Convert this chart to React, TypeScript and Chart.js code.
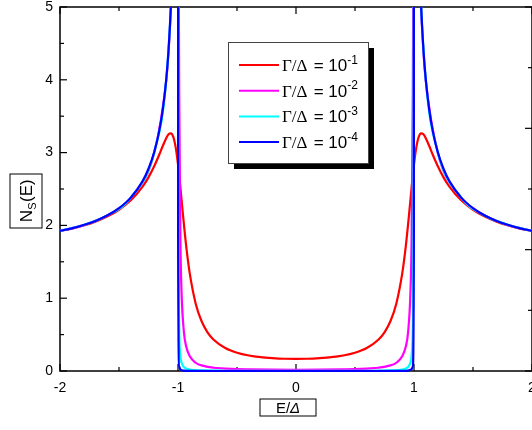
import React, { useEffect, useRef } from 'react';
import { Chart, registerables } from 'chart.js';

Chart.register(...registerables);

// Quasiparticle density of states N_s(E) for four broadening ratios Γ/Δ.
// Values are in units of the normal-state DOS (right-hand 0–3 axis).

const energyRed = [-2, -1.9, -1.8, -1.7, -1.6, -1.5, -1.4, -1.3, -1.25, -1.2, -1.16, -1.13, -1.1, -1.08, -1.06, -1.04, -1.02, -1, -0.98, -0.96, -0.93, -0.9, -0.85, -0.8, -0.75, -0.7, -0.6, -0.5, -0.4, -0.3, -0.2, -0.1, 0, 0.1, 0.2, 0.3, 0.4, 0.5, 0.6, 0.7, 0.75, 0.8, 0.85, 0.9, 0.93, 0.96, 0.98, 1, 1.02, 1.04, 1.06, 1.08, 1.1, 1.13, 1.16, 1.2, 1.25, 1.3, 1.4, 1.5, 1.6, 1.7, 1.8, 1.9, 2];
const dosRed = [1.153, 1.174, 1.199, 1.231, 1.273, 1.329, 1.407, 1.520, 1.596, 1.691, 1.780, 1.852, 1.919, 1.951, 1.959, 1.929, 1.845, 1.702, 1.514, 1.309, 1.025, 0.802, 0.555, 0.410, 0.319, 0.260, 0.190, 0.151, 0.128, 0.114, 0.106, 0.101, 0.100, 0.101, 0.106, 0.114, 0.128, 0.151, 0.190, 0.260, 0.319, 0.410, 0.555, 0.802, 1.025, 1.309, 1.514, 1.702, 1.845, 1.929, 1.959, 1.951, 1.919, 1.852, 1.780, 1.691, 1.596, 1.520, 1.407, 1.329, 1.273, 1.231, 1.199, 1.174, 1.153];

const energyMagenta = [-2, -1.8, -1.6, -1.4, -1.2, -1.1, -1.08, -1.05, -1.03, -1.02, -1.01, -1.005, -1, -0.995, -0.99, -0.98, -0.97, -0.95, -0.93, -0.9, -0.85, -0.8, -0.7, -0.6, -0.5, -0.4, -0.2, 0, 0.2, 0.4, 0.5, 0.6, 0.7, 0.8, 0.85, 0.9, 0.93, 0.95, 0.97, 0.98, 0.99, 0.995, 1, 1.005, 1.01, 1.02, 1.03, 1.05, 1.08, 1.1, 1.2, 1.4, 1.6, 1.8, 2];
const dosMagenta = [1.155, 1.202, 1.281, 1.428, 1.806, 2.392, 2.633, 3.234, 4.018, 4.679, 5.552, 5.737, 5.038, 3.545, 2.300, 1.105, 0.652, 0.321, 0.199, 0.121, 0.068, 0.046, 0.027, 0.020, 0.015, 0.013, 0.011, 0.010, 0.011, 0.013, 0.015, 0.020, 0.027, 0.046, 0.068, 0.121, 0.199, 0.321, 0.652, 1.105, 2.300, 3.545, 5.038, 5.737, 5.552, 4.679, 4.018, 3.234, 2.633, 2.392, 1.806, 1.428, 1.281, 1.202, 1.155];

const energyCyan = [-2, -1.8, -1.6, -1.4, -1.2, -1.1, -1.05, -1.03, -1.02, -1.01, -1.005, -1.002, -1, -0.998, -0.995, -0.99, -0.98, -0.97, -0.95, -0.9, -0.8, -0.6, -0.3, 0, 0.3, 0.6, 0.8, 0.9, 0.95, 0.97, 0.98, 0.99, 0.995, 0.998, 1, 1.002, 1.005, 1.01, 1.02, 1.03, 1.05, 1.1, 1.2, 1.4, 1.6, 1.8, 2];
const dosCyan = [1.155, 1.203, 1.281, 1.429, 1.809, 2.399, 3.278, 4.170, 5.065, 7.098, 9.891, 14.58, 15.83, 3.441, 0.981, 0.356, 0.127, 0.070, 0.033, 0.012, 0.0046, 0.002, 0.0011, 0.001, 0.0011, 0.002, 0.0046, 0.012, 0.033, 0.070, 0.127, 0.356, 0.981, 3.441, 15.83, 14.58, 9.891, 7.098, 5.065, 4.170, 3.278, 2.399, 1.809, 1.429, 1.281, 1.203, 1.155];

const energyBlue = [-2, -1.9, -1.8, -1.7, -1.6, -1.5, -1.4, -1.3, -1.25, -1.2, -1.16, -1.13, -1.1, -1.08, -1.06, -1.05, -1.04, -1.03, -1.02, -1.01, -1.005, -1.001, -1, -0.999, -0.99, -0.98, -0.95, -0.9, -0.5, 0, 0.5, 0.9, 0.95, 0.98, 0.99, 0.999, 1, 1.001, 1.005, 1.01, 1.02, 1.03, 1.04, 1.05, 1.06, 1.08, 1.1, 1.13, 1.16, 1.2, 1.25, 1.3, 1.4, 1.5, 1.6, 1.7, 1.8, 1.9, 2];
const dosBlue = [1.155, 1.176, 1.203, 1.237, 1.281, 1.342, 1.429, 1.565, 1.667, 1.809, 1.973, 2.147, 2.400, 2.648, 3.015, 3.280, 3.641, 4.174, 5.075, 7.124, 10.04, 22.4, 50, 1.11, 0.036, 0.013, 0.003, 0.001, 0.0001, 0.0001, 0.0001, 0.001, 0.003, 0.013, 0.036, 1.11, 50, 22.4, 10.04, 7.124, 5.075, 4.174, 3.641, 3.280, 3.015, 2.648, 2.400, 2.147, 1.973, 1.809, 1.667, 1.565, 1.429, 1.342, 1.281, 1.237, 1.203, 1.176, 1.155];

const seriesColors = ['#ff0000', '#ff00ff', '#00ffff', '#0000ff'];
const gammaExponents = ['-1', '-2', '-3', '-4'];
const leftTicks = [0, 1, 2, 3, 4, 5];
const energyTicks = [-2, -1, 0, 1, 2];

const SANS = '"Liberation Sans", Arial, sans-serif';
const SERIF = '"Liberation Serif", "Times New Roman", serif';

const toPoints = (xs: number[], ys: number[]) => xs.map((x, i) => ({ x, y: ys[i] }));

const decorations = {
  id: 'decorations',
  beforeDatasetsDraw(chart: any) {
    const { ctx, chartArea: a, scales } = chart;
    const sx = scales.x;
    const sy = scales.y;
    const sr = scales.yN;
    ctx.save();
    ctx.strokeStyle = '#000';
    ctx.lineWidth = 1.5;
    ctx.strokeRect(a.left, a.top, a.right - a.left, a.bottom - a.top);
    ctx.lineWidth = 1.2;
    const seg = (x1: number, y1: number, x2: number, y2: number) => {
      ctx.beginPath();
      ctx.moveTo(x1, y1);
      ctx.lineTo(x2, y2);
      ctx.stroke();
    };
    for (let k = -4; k <= 4; k++) {
      const px = sx.getPixelForValue(k / 2);
      const len = k % 2 === 0 ? 7 : 4;
      seg(px, a.bottom, px, a.bottom - len);
      seg(px, a.top, px, a.top + len);
    }
    for (let k = 0; k <= 10; k++) {
      const py = sy.getPixelForValue(k / 2);
      seg(a.left, py, a.left + (k % 2 === 0 ? 7 : 4), py);
    }
    for (let k = 0; k <= 6; k++) {
      const py = sr.getPixelForValue(k / 2);
      seg(a.right, py, a.right - (k % 2 === 0 ? 7 : 4), py);
    }
    ctx.restore();
  },
  afterDraw(chart: any) {
    const { ctx } = chart;
    ctx.save();
    ctx.fillStyle = '#000';
    ctx.strokeStyle = '#000';
    ctx.textBaseline = 'alphabetic';

    // x-axis title in a box
    {
      const cx = 288;
      const cy = 407.5;
      ctx.lineWidth = 1;
      ctx.strokeRect(cx - 28, cy - 8.5, 56, 17);
      ctx.font = `15px ${SANS}`;
      const w1 = ctx.measureText('E/').width;
      ctx.font = `italic 15px ${SANS}`;
      const w2 = ctx.measureText('Δ').width;
      const x0 = cx - (w1 + w2) / 2;
      ctx.font = `15px ${SANS}`;
      ctx.fillText('E/', x0, cy + 5.5);
      ctx.font = `italic 15px ${SANS}`;
      ctx.fillText('Δ', x0 + w1, cy + 5.5);
    }

    // y-axis title in a box, rotated
    {
      ctx.save();
      ctx.translate(26, 201);
      ctx.rotate(-Math.PI / 2);
      ctx.lineWidth = 1;
      ctx.strokeRect(-27, -16, 54, 32);
      ctx.font = `17px ${SANS}`;
      const wN = ctx.measureText('N').width;
      const wP = ctx.measureText('(E)').width;
      ctx.font = `11px ${SANS}`;
      const wS = ctx.measureText('S').width;
      const x0 = -(wN + wS + wP) / 2;
      ctx.font = `17px ${SANS}`;
      ctx.fillText('N', x0, 6);
      ctx.font = `11px ${SANS}`;
      ctx.fillText('S', x0 + wN, 10);
      ctx.font = `17px ${SANS}`;
      ctx.fillText('(E)', x0 + wN + wS + 0.5, 6);
      ctx.restore();
    }

    // legend with drop shadow
    {
      const lx = 228;
      const ly = 42;
      const lw = 140;
      const lh = 121;
      ctx.fillStyle = '#000';
      ctx.fillRect(lx + 6, ly + 6, lw, lh);
      ctx.fillStyle = '#fff';
      ctx.fillRect(lx, ly, lw, lh);
      ctx.strokeStyle = '#444';
      ctx.lineWidth = 1;
      ctx.strokeRect(lx + 0.5, ly + 0.5, lw, lh);
      gammaExponents.forEach((exp, i) => {
        const ry = ly + 23 + i * 25.7;
        ctx.strokeStyle = seriesColors[i];
        ctx.lineWidth = 2;
        ctx.beginPath();
        ctx.moveTo(lx + 11, ry);
        ctx.lineTo(lx + 51, ry);
        ctx.stroke();
        ctx.fillStyle = '#000';
        let tx = lx + 54;
        const base = ry + 6;
        ctx.font = `17px ${SERIF}`;
        ctx.fillText('Γ/Δ', tx, base);
        tx += ctx.measureText('Γ/Δ').width + 1.5;
        ctx.font = `17px ${SANS}`;
        ctx.fillText(' = 10', tx, base);
        tx += ctx.measureText(' = 10').width;
        ctx.font = `12px ${SANS}`;
        ctx.fillText(exp, tx, base - 7.5);
      });
    }
    ctx.restore();
  },
};

export default function App() {
  const canvasRef = useRef<HTMLCanvasElement | null>(null);

  useEffect(() => {
    const canvas = canvasRef.current;
    if (!canvas) return;
    const common = {
      borderWidth: 2.2,
      pointRadius: 0,
      fill: false,
      cubicInterpolationMode: 'monotone' as const,
      yAxisID: 'yN',
      clip: { left: 1, top: 0, right: 1, bottom: 2 },
    };
    const chart = new Chart(canvas, {
      type: 'line',
      data: {
        datasets: [
          { ...common, label: 'Γ/Δ = 10^-1', data: toPoints(energyRed, dosRed), borderColor: seriesColors[0], order: 3 },
          { ...common, label: 'Γ/Δ = 10^-2', data: toPoints(energyMagenta, dosMagenta), borderColor: seriesColors[1], order: 2 },
          { ...common, label: 'Γ/Δ = 10^-3', data: toPoints(energyCyan, dosCyan), borderColor: seriesColors[2], order: 1 },
          { ...common, label: 'Γ/Δ = 10^-4', data: toPoints(energyBlue, dosBlue), borderColor: seriesColors[3], order: 0 },
        ],
      },
      options: {
        animation: false,
        responsive: false,
        devicePixelRatio: 1,
        layout: { padding: { top: 7, left: 0, right: 0, bottom: 0 } },
        plugins: { legend: { display: false }, tooltip: { enabled: false } },
        scales: {
          x: {
            type: 'linear',
            min: -2,
            max: 2,
            afterBuildTicks: (s: any) => { s.ticks = energyTicks.map((v) => ({ value: v })); },
            afterFit: (s: any) => { s.height = 59; s.paddingLeft = 0; s.paddingRight = 0; },
            grid: { display: false, drawTicks: false },
            border: { display: false },
            ticks: { padding: 9, color: '#000', font: { family: SANS, size: 14 }, callback: (v: any) => String(v) },
          },
          y: {
            type: 'linear',
            position: 'left',
            min: 0,
            max: 5,
            afterBuildTicks: (s: any) => { s.ticks = leftTicks.map((v) => ({ value: v })); },
            afterFit: (s: any) => { s.width = 60; s.paddingTop = 0; s.paddingBottom = 0; },
            grid: { display: false, drawTicks: false },
            border: { display: false },
            ticks: { padding: 7, color: '#000', font: { family: SANS, size: 14 }, callback: (v: any) => String(v) },
          },
          yN: {
            type: 'linear',
            position: 'right',
            min: 0,
            max: 3,
            afterFit: (s: any) => { s.width = 8; s.paddingTop = 0; s.paddingBottom = 0; },
            grid: { display: false, drawTicks: false },
            border: { display: false },
            ticks: { display: false },
          },
        },
      },
      plugins: [decorations],
    });
    return () => chart.destroy();
  }, []);

  return (
    <div style={{ position: 'fixed', left: 0, top: 0, width: 532, height: 430, overflow: 'hidden', background: '#fff' }}>
      <canvas ref={canvasRef} width={540} height={430} style={{ display: 'block' }} />
    </div>
  );
}
